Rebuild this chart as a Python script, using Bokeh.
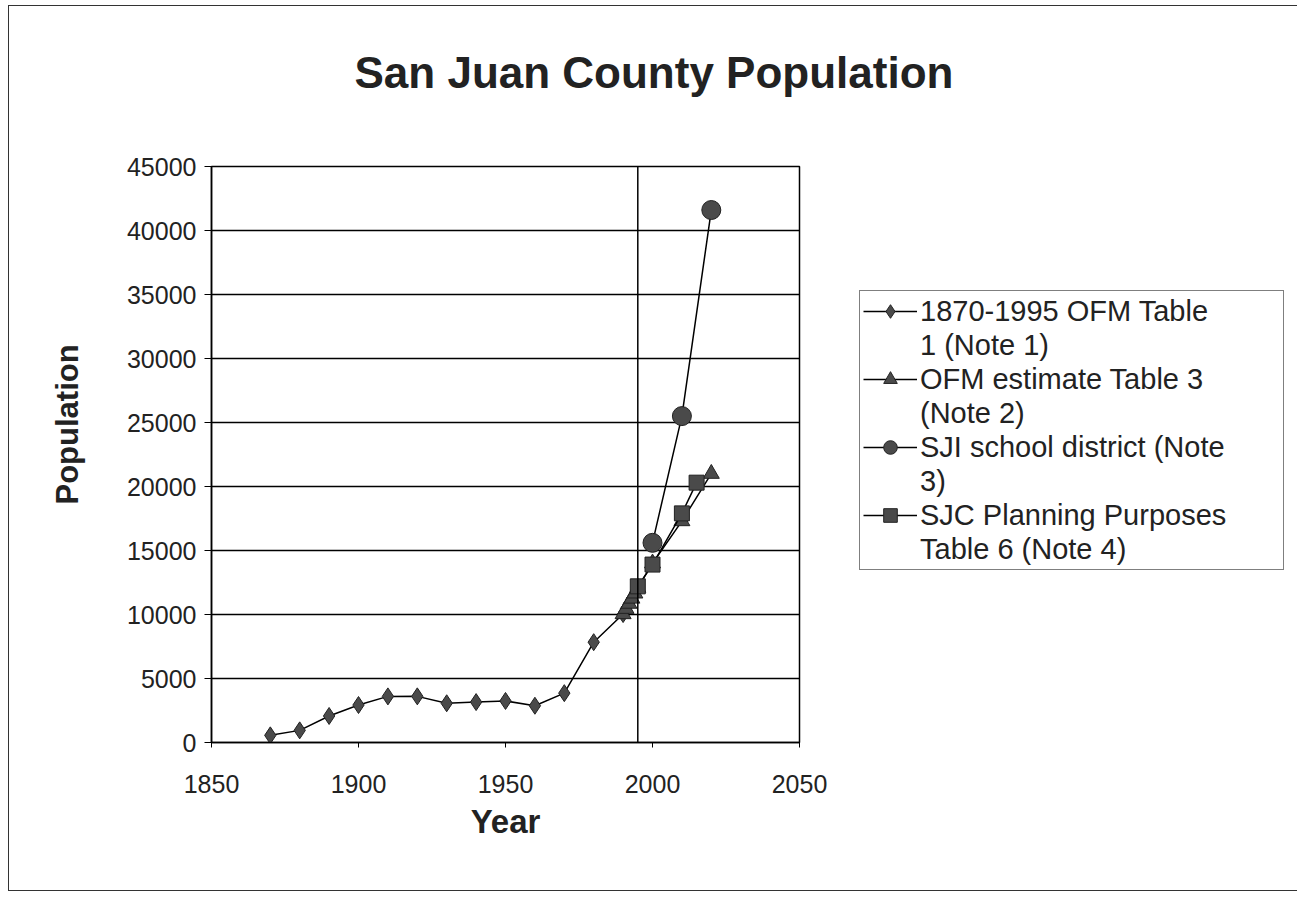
from bokeh.plotting import figure
from bokeh.models import Range1d, Span, Legend, LegendItem, SingleIntervalTicker, Title
from bokeh.embed import file_html
from bokeh.resources import INLINE

# ---- data ----
hist_years = [1870, 1880, 1890, 1900, 1910, 1920, 1930, 1940, 1950, 1960, 1970, 1980,
              1990, 1991, 1992, 1993, 1994, 1995]
hist_pop = [558, 948, 2072, 2928, 3603, 3605, 3064, 3157, 3245, 2872, 3856, 7838,
            10035, 10450, 10850, 11250, 11650, 12100]

ofm_years = [1990, 1991, 1992, 1993, 1994, 1995, 2000, 2010, 2020]
ofm_pop = [10035, 10450, 10850, 11250, 11650, 12100, 14000, 17300, 21000]

sji_years = [2000, 2010, 2020]
sji_pop = [15600, 25500, 41600]

sjc_years = [1995, 2000, 2010, 2015]
sjc_pop = [12200, 13900, 17900, 20300]

labels = [("1870-1995 OFM Table", "1 (Note 1)"),
          ("OFM estimate Table 3", "(Note 2)"),
          ("SJI school district (Note", "3)"),
          ("SJC Planning Purposes", "Table 6 (Note 4)")]

title_text = "San Juan County Population"
x_label = "Year"
y_label = "Population"
divider_year = 1995

FONT = "Liberation Sans"
MFILL = "#4a4a4a"
TXT = "#222222"

p = figure(frame_width=588, frame_height=576,
           min_border_left=202, min_border_top=160, min_border_right=487, min_border_bottom=148,
           x_range=Range1d(1850, 2050), y_range=Range1d(0, 45000),
           output_backend="svg", toolbar_location=None)

# spacer between the frame and the title (keeps the title high above the plot)
p.add_layout(Title(text=" ", text_font_size="1px", standoff=67), "above")

p.title.text = title_text
p.title.align = "left"
p.title.offset = 143
p.title.text_font = FONT
p.title.text_font_size = "44px"
p.title.text_font_style = "bold"
p.title.text_color = TXT
p.title.standoff = 0

p.background_fill_color = "white"
p.border_fill_color = "white"
p.outline_line_color = "black"
p.outline_line_width = 1.5
p.styles = {"border": "1.5px solid #333", "margin-left": "8px", "margin-top": "5px"}

p.xgrid.grid_line_color = None
p.ygrid.grid_line_color = "black"
p.ygrid.grid_line_width = 1.5
p.yaxis.ticker = SingleIntervalTicker(interval=5000)
p.xaxis.ticker = SingleIntervalTicker(interval=50)

for ax in (p.xaxis, p.yaxis):
    ax.axis_line_color = "black"
    ax.axis_line_width = 1.5
    ax.major_tick_line_color = "black"
    ax.minor_tick_line_color = None
    ax.major_label_text_font = FONT
    ax.major_label_text_font_size = "25px"
    ax.major_label_text_color = TXT
    ax.axis_label_text_font = FONT
    ax.axis_label_text_font_size = "31px"
    ax.axis_label_text_font_style = "bold"
    ax.axis_label_text_color = TXT

p.yaxis.major_tick_out = 7
p.yaxis.major_tick_in = 0
p.yaxis.major_label_standoff = 8

# y-axis title as a side title so that it can sit slightly above the frame's centre
ytitle = Title(text=y_label, align="left", offset=238, standoff=77,
               text_font=FONT, text_font_size="31px", text_font_style="bold", text_color=TXT)
p.add_layout(ytitle, "left")

p.xaxis.major_tick_out = 5
p.xaxis.major_tick_in = 0
p.xaxis.major_label_standoff = 27
p.xaxis.axis_label = x_label
p.xaxis.axis_label_standoff = 7
p.xaxis.axis_label_text_font_size = "33px"

p.add_layout(Span(location=divider_year, dimension="height", line_color="black", line_width=1.5))

r1l = p.line(hist_years, hist_pop, line_color="black", line_width=1.5)
r1m = p.scatter(hist_years, hist_pop, marker="diamond", size=17, fill_color=MFILL, line_color=TXT)
r2l = p.line(ofm_years, ofm_pop, line_color="black", line_width=1.5)
r2m = p.scatter(ofm_years, ofm_pop, marker="triangle", size=16, fill_color=MFILL, line_color=TXT)
r3l = p.line(sji_years, sji_pop, line_color="black", line_width=1.5)
r3m = p.scatter(sji_years, sji_pop, marker="circle", size=19, fill_color=MFILL, line_color=TXT)
r4l = p.line(sjc_years, sjc_pop, line_color="black", line_width=1.5)
r4m = p.scatter(sjc_years, sjc_pop, marker="square", size=15, fill_color=MFILL, line_color=TXT)

blank = p.line(x=[], y=[], line_alpha=0)

items = []
for (l1, l2), rs in zip(labels, [[r1l, r1m], [r2l, r2m], [r3l, r3m], [r4l, r4m]]):
    items.append(LegendItem(label=l1, renderers=rs))
    items.append(LegendItem(label=l2, renderers=[blank]))

legend = Legend(items=items, location=(60, 172), orientation="vertical",
                label_text_font=FONT, label_text_font_size="29px", label_text_color=TXT,
                glyph_width=54, glyph_height=34, label_height=34, spacing=0,
                label_standoff=3, label_width=360, padding=3, margin=0,
                border_line_color="black", border_line_width=1.5,
                background_fill_color="white", background_fill_alpha=1.0)
p.add_layout(legend, "right")

open("out.html", "w").write(file_html(p, INLINE))
